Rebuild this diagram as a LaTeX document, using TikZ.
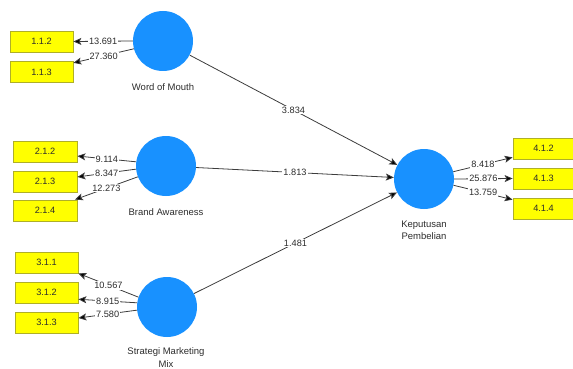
\documentclass[tikz,border=0pt]{standalone}
\usepackage{fontspec}
\setmainfont{Liberation Sans}
\usetikzlibrary{arrows.meta}
\definecolor{lvblue}{RGB}{24,145,255}
\definecolor{indfill}{RGB}{255,255,0}
\definecolor{indline}{RGB}{175,175,40}
\definecolor{txt}{RGB}{45,45,45}
\definecolor{edge}{RGB}{60,60,60}
\begin{document}
\begin{tikzpicture}[x=1pt,y=-1pt,
  lv/.style={circle,fill=lvblue,draw=none,minimum size=60pt,inner sep=0pt},
  ind/.style={rectangle,fill=indfill,draw=indline,line width=0.8pt,minimum width=63pt,minimum height=21pt,inner sep=0pt,font=\fontsize{9.2}{11}\selectfont,text=txt},
  lvname/.style={font=\fontsize{9.5}{12.5}\selectfont,text=txt,align=center},
  lbl/.style={fill=white,inner sep=1pt,font=\fontsize{9.2}{11}\selectfont,text=txt},
  conn/.style={draw=edge,line width=0.8pt,-{Stealth[length=8pt,width=7pt,inset=1.8pt,fill=black]}}
]
\useasboundingbox (0,0) rectangle (573,369);

% latent variables
\node[lv] (wom) at (163,41) {};
\node[lv] (ba) at (166,166) {};
\node[lv] (smm) at (167,307) {};
\node[lv] (kp) at (424,179) {};

\node[lvname] (womname) at (163,87) {Word of Mouth};
\node[lvname] (baname) at (166,212) {Brand Awareness};
\node[lvname] (smmname) at (166,357.5) {Strategi Marketing\\Mix};
\node[lvname] (kpname) at (424,230.5) {Keputusan\\Pembelian};

% indicators
\node[ind] (b112) at (41.5,41.5) {1.1.2};
\node[ind] (b113) at (41.5,72) {1.1.3};
\node[ind,minimum width=64pt] (b212) at (45,151.5) {2.1.2};
\node[ind,minimum width=64pt] (b213) at (45,181.5) {2.1.3};
\node[ind,minimum width=64pt] (b214) at (45,210.5) {2.1.4};
\node[ind] (b311) at (46.5,262.5) {3.1.1};
\node[ind] (b312) at (46.5,292.5) {3.1.2};
\node[ind] (b313) at (46.5,322.5) {3.1.3};
\node[ind,minimum width=61pt] (b412) at (543.5,148.5) {4.1.2};
\node[ind,minimum width=61pt] (b413) at (543.5,178.5) {4.1.3};
\node[ind,minimum width=61pt] (b414) at (543.5,208.5) {4.1.4};

% outer loadings
\draw[conn] (wom.180) -- node[lbl]{13.691} (b112.east);
\draw[conn] (wom.195) -- node[lbl]{27.360} (b113.16);

\draw[conn] (ba.172) -- node[lbl]{9.114} (b212.-8);
\draw[conn] (ba.186) -- node[lbl]{8.347} (b213.8);
\draw[conn] (ba.201) -- node[lbl]{12.273} (b214.20);

\draw[conn] (smm.161) -- node[lbl]{10.567} (b311.south east);
\draw[conn] (smm.172) -- node[lbl]{8.915} (b312.-12);
\draw[conn] (smm.186) -- node[lbl]{7.580} (b313.8);

\draw[conn] (kp.14) -- node[lbl]{8.418} (b412.196);
\draw[conn] (kp.east) -- node[lbl]{25.876} (b413.west);
\draw[conn] (kp.-12) -- node[lbl]{13.759} (b414.164);

% inner paths
\draw[conn] (wom) -- node[lbl]{3.834} (kp);
\draw[conn] (ba) -- node[lbl]{1.813} (kp);
\draw[conn] (smm) -- node[lbl]{1.481} (kp);
\end{tikzpicture}
\end{document}
